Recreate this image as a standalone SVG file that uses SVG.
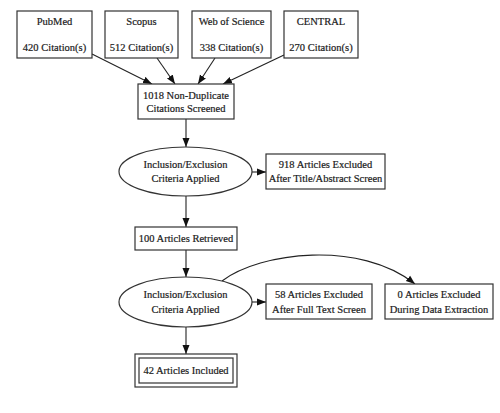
<svg xmlns="http://www.w3.org/2000/svg" width="500" height="413" viewBox="0 0 500 413">
<style>
.b{fill:#fff;stroke:#333;stroke-width:1.2}
.t{font-size:10.5px;fill:#1a1a1a;stroke:#1a1a1a;stroke-width:0.2;text-anchor:middle}
.e{fill:none;stroke:#222;stroke-width:1.1}
</style>
<defs>
<marker id="a" markerUnits="userSpaceOnUse" markerWidth="9" markerHeight="8" refX="9" refY="4" orient="auto">
<path d="M0,0.5 L9,4 L0,7.5 z" fill="#111"/>
</marker>
</defs>
<rect width="500" height="413" fill="#fff"/>
<g id="connectors">
<path class="e" d="M92,54 L152,84" marker-end="url(#a)"/>
<path class="e" d="M157,58 L175,84" marker-end="url(#a)"/>
<path class="e" d="M215,58 L198,84" marker-end="url(#a)"/>
<path class="e" d="M284,55 L223,84" marker-end="url(#a)"/>
<path class="e" d="M186,119 L186,147" marker-end="url(#a)"/>
<path class="e" d="M252,172 L266,172" marker-end="url(#a)"/>
<path class="e" d="M186,196 L186,227" marker-end="url(#a)"/>
<path class="e" d="M186,250 L186,277" marker-end="url(#a)"/>
<path class="e" d="M252,302 L266,302" marker-end="url(#a)"/>
<path class="e" d="M222,281 C260,252 360,240 415,284" marker-end="url(#a)"/>
<path class="e" d="M186,327 L186,354" marker-end="url(#a)"/>
</g>
<g font-family="'Liberation Serif', 'DejaVu Serif', serif">
<g id="pubmed">
<rect class="b" x="17" y="11" width="75" height="47"/>
<text class="t" x="54.5" y="25">PubMed</text>
<text class="t" x="54.5" y="51">420 Citation(s)</text>
</g>
<g id="scopus">
<rect class="b" x="105" y="11" width="73" height="47"/>
<text class="t" x="141.5" y="25">Scopus</text>
<text class="t" x="141.5" y="51">512 Citation(s)</text>
</g>
<g id="wos">
<rect class="b" x="192" y="11" width="79" height="47"/>
<text class="t" x="231.5" y="25">Web of Science</text>
<text class="t" x="231.5" y="51">338 Citation(s)</text>
</g>
<g id="central">
<rect class="b" x="284" y="11" width="74" height="47"/>
<text class="t" x="321" y="25">CENTRAL</text>
<text class="t" x="321" y="51">270 Citation(s)</text>
</g>
<g id="screened">
<rect class="b" x="138" y="84" width="96" height="35"/>
<text class="t" x="186" y="99">1018 Non-Duplicate</text>
<text class="t" x="186" y="112">Citations Screened</text>
</g>
<g id="criteria1">
<ellipse class="b" cx="185.5" cy="171.5" rx="66.5" ry="24.5"/>
<text class="t" x="185.5" y="168">Inclusion/Exclusion</text>
<text class="t" x="185.5" y="182">Criteria Applied</text>
</g>
<g id="excluded918">
<rect class="b" x="266" y="154" width="119" height="35"/>
<text class="t" x="325.5" y="168">918 Articles Excluded</text>
<text class="t" x="325.5" y="182">After Title/Abstract Screen</text>
</g>
<g id="retrieved">
<rect class="b" x="135" y="227" width="102" height="23"/>
<text class="t" x="186" y="242">100 Articles Retrieved</text>
</g>
<g id="criteria2">
<ellipse class="b" cx="185.5" cy="302" rx="66.5" ry="25"/>
<text class="t" x="185.5" y="298">Inclusion/Exclusion</text>
<text class="t" x="185.5" y="313">Criteria Applied</text>
</g>
<g id="excluded58">
<rect class="b" x="266" y="284" width="106" height="35"/>
<text class="t" x="319" y="298">58 Articles Excluded</text>
<text class="t" x="319" y="313">After Full Text Screen</text>
</g>
<g id="excluded0">
<rect class="b" x="385" y="284" width="108" height="35"/>
<text class="t" x="439" y="298">0 Articles Excluded</text>
<text class="t" x="439" y="313">During Data Extraction</text>
</g>
<g id="included">
<rect class="b" x="135" y="354" width="102" height="33"/>
<rect class="b" x="139" y="358" width="94" height="25"/>
<text class="t" x="186" y="374">42 Articles Included</text>
</g>
</g>
</svg>
